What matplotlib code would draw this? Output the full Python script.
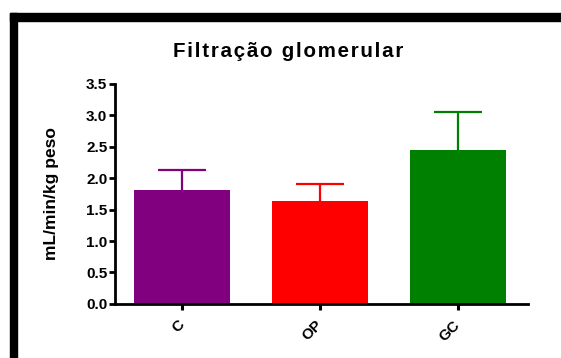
import matplotlib.pyplot as plt
from matplotlib.patches import Rectangle

# Glomerular filtration by group (mean + SEM)
groups = ['C', 'OP', 'GC']
means = [1.81, 1.64, 2.45]
sem = [0.32, 0.26, 0.60]
colors = ['#800080', '#ff0000', '#008000']
yticks = [0.0, 0.5, 1.0, 1.5, 2.0, 2.5, 3.0, 3.5]

plt.rcParams['font.family'] = ['Liberation Sans', 'DejaVu Sans']
plt.rcParams['font.weight'] = 'bold'

fig = plt.figure(figsize=(5.61, 3.58), dpi=100)
ax = fig.add_axes([0.205, 0.151, 0.736, 0.615])

x = list(range(len(groups)))
bar_w = 0.70
cap_w = bar_w / 2
ax.bar(x, means, width=bar_w, color=colors, zorder=2)
# upper error bars only
tops = [m + e for m, e in zip(means, sem)]
ax.vlines(x, means, tops, colors=colors, linewidth=1.6, zorder=1)
ax.hlines(tops, [xi - cap_w / 2 for xi in x], [xi + cap_w / 2 for xi in x],
          colors=colors, linewidth=1.6, zorder=1)

ax.set_xlim(-0.486, 2.507)
ax.set_ylim(0, 3.5)
ax.set_yticks(yticks)
ax.set_yticklabels([f'{t:.1f}' for t in yticks], fontsize=11, fontweight='bold')
ax.set_xticks(x)
ax.set_xticklabels(groups, fontsize=11, fontweight='bold', rotation=45,
                   ha='right', va='center', rotation_mode='anchor')

ax.spines[['top', 'right']].set_visible(False)
ax.spines[['left', 'bottom']].set_linewidth(2.0)
ax.tick_params(axis='y', length=4, width=2.0, pad=1.5)
ax.tick_params(axis='x', length=4.5, width=2.2, pad=9)

# spaced-out title, Prism style
title = '\u200a'.join('Filtração glomerular')
fig.text(0.514, 0.841, title, ha='center', va='baseline',
         fontsize=14.8, fontweight='bold')
fig.text(0.092, 0.458, 'mL/min/kg peso', ha='center', va='center',
         rotation=90, fontsize=12.5, fontweight='bold')

# heavy frame along the top and left edges
fig.patches.append(Rectangle((10 / 561, 0), 7 / 561, 1 - 13 / 358,
                             transform=fig.transFigure, color='black'))
fig.patches.append(Rectangle((10 / 561, 1 - 21 / 358), 1, 8 / 358,
                             transform=fig.transFigure, color='black'))

plt.savefig('out.png', dpi=100)
